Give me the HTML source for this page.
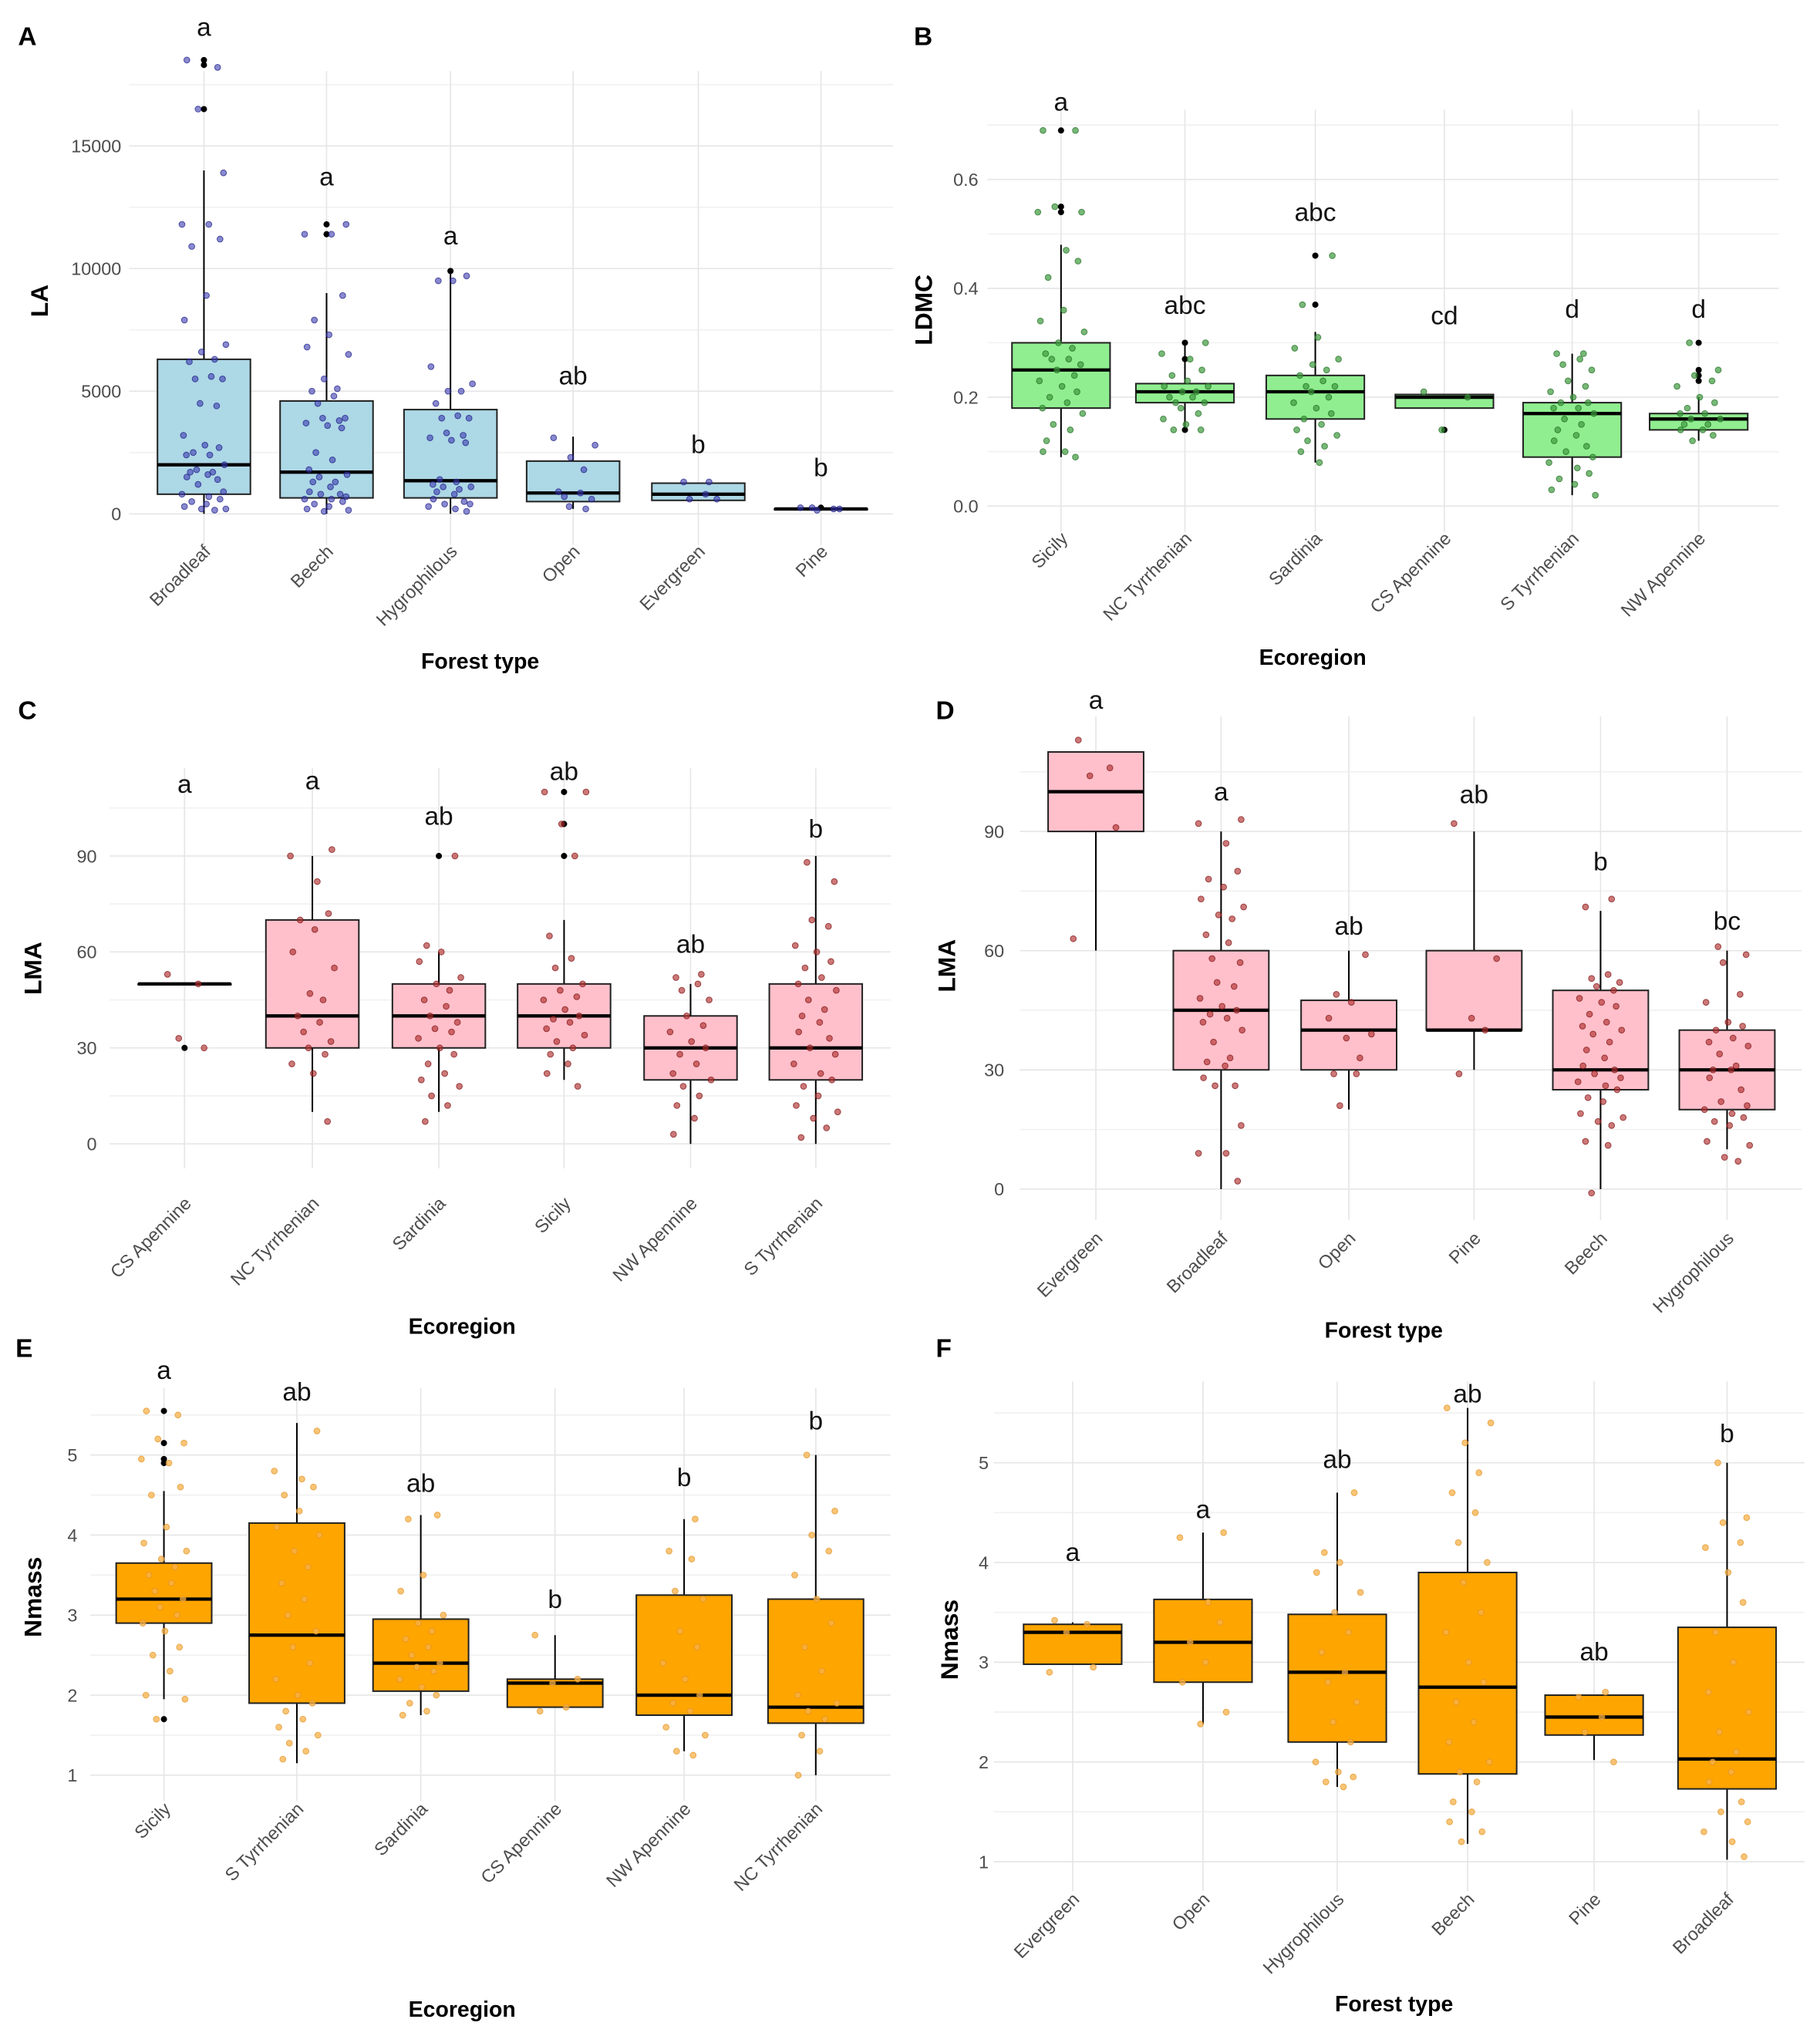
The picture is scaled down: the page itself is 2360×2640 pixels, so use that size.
<!DOCTYPE html>
<html><head><meta charset="utf-8"><style>
html,body{margin:0;padding:0;background:#fff;}
svg{display:block;font-family:"Liberation Sans",sans-serif;}
</style></head><body>
<svg id="fig" width="2360" height="2640" viewBox="0 0 1410 1577" preserveAspectRatio="none" xmlns="http://www.w3.org/2000/svg">
<rect width="1410" height="1577" fill="#fff"/>
</svg>
<script>
// ---------- data arrays ----------
const catsA=["Broadleaf","Beech","Hygrophilous","Open","Evergreen","Pine"];
const boxA=[[0,800,2000,6300,14000],[0,650,1700,4600,9000],[0,650,1350,4250,9800],[200,500,850,2150,3150],[550,550,800,1250,1250],[200,200,200,200,200]];
const outA=[[18500,18300,16500],[11800,11400],[9900],[],[],[250]];
const ptsA=[[18500,18200,16500,13900,11800,11800,11200,10900,8900,7900,6900,6600,6300,6200,5600,5500,5500,4500,4400,3200,2800,2700,2500,2400,2400,2000,1800,1700,1700,1600,1500,1400,1200,900,800,700,600,500,400,300,200,200,150],[11800,11400,11400,8900,7900,7300,6800,6500,5500,5100,5000,4800,4500,3900,3900,3800,3700,3600,3500,2500,2200,1800,1600,1500,1300,1300,1100,900,800,800,700,600,600,500,400,300,200,150,100],[9700,9500,9500,6000,5300,5000,5000,4500,4000,3900,3900,3300,3200,3100,3000,2900,1400,1300,1200,1100,1100,1000,900,800,600,500,400,400,300,200,100],[3100,2800,2300,1800,900,850,700,600,300,200],[1300,1300,800,600,600],[250,200,150,200,250]];
const letA=["a","a","a","ab","b","b"];
const letYA=[19900,13800,11400,5700,2900,1950];
const ticksA=[0,5000,10000,15000];

const catsB=["Sicily","NC Tyrrhenian","Sardinia","CS Apennine","S Tyrrhenian","NW Apennine"];
const boxB=[[0.09,0.18,0.25,0.30,0.48],[0.14,0.19,0.21,0.225,0.30],[0.08,0.16,0.21,0.24,0.32],[0.18,0.18,0.20,0.205,0.205],[0.02,0.09,0.17,0.19,0.28],[0.12,0.14,0.16,0.17,0.20]];
const outB=[[0.69,0.55,0.54],[0.30,0.27,0.14],[0.46,0.37],[0.14],[],[0.30,0.25,0.24,0.23]];
const ptsB=[[0.69,0.69,0.55,0.54,0.54,0.47,0.45,0.42,0.36,0.34,0.32,0.30,0.29,0.28,0.27,0.27,0.26,0.25,0.24,0.23,0.22,0.21,0.20,0.19,0.18,0.17,0.15,0.14,0.12,0.10,0.10,0.09],[0.30,0.28,0.27,0.25,0.24,0.23,0.22,0.22,0.21,0.21,0.20,0.20,0.19,0.19,0.18,0.17,0.16,0.15,0.14,0.14],[0.46,0.37,0.31,0.29,0.27,0.26,0.25,0.24,0.23,0.22,0.22,0.21,0.20,0.19,0.18,0.17,0.16,0.15,0.14,0.13,0.12,0.11,0.10,0.08],[0.21,0.20,0.14],[0.28,0.28,0.27,0.26,0.25,0.23,0.22,0.21,0.20,0.19,0.19,0.18,0.18,0.17,0.16,0.15,0.14,0.13,0.12,0.11,0.10,0.09,0.08,0.07,0.06,0.05,0.04,0.03,0.02],[0.30,0.25,0.24,0.23,0.22,0.20,0.19,0.18,0.17,0.17,0.16,0.16,0.15,0.15,0.14,0.14,0.13,0.12]];
const letB=["a","abc","abc","cd","d","d"];
const letYB=[0.745,0.372,0.543,0.353,0.365,0.365];
const ticksB=[0,0.2,0.4,0.6];

const catsC=["CS Apennine","NC Tyrrhenian","Sardinia","Sicily","NW Apennine","S Tyrrhenian"];
const boxC=[[50,50,50,50,50],[10,30,40,70,90],[10,30,40,50,60],[20,30,40,50,70],[0,20,30,40,50],[0,20,30,50,90]];
const outC=[[30],[],[90],[110,100,90],[],[]];
const ptsC=[[53,50,33,30],[92,90,82,72,70,67,60,55,47,45,40,38,35,32,30,28,25,22,7],[90,62,60,57,52,50,48,45,43,40,38,36,35,33,30,28,25,22,20,18,15,12,7],[110,110,100,90,65,58,55,50,48,46,45,42,40,39,38,36,34,32,30,28,25,22,18],[53,52,50,48,45,40,37,35,32,30,28,25,22,20,18,15,12,8,3],[88,82,70,68,62,60,57,55,52,50,48,45,42,40,38,35,33,30,28,25,22,20,18,15,12,10,8,5,2]];
const letC=["a","a","ab","ab","ab","b"];
const letYC=[113,114,103,117,63,99];
const ticksC=[0,30,60,90];

const catsD=["Evergreen","Broadleaf","Open","Pine","Beech","Hygrophilous"];
const boxD=[[60,90,100,110,110],[0,30,45,60,90],[20,30,40,47.5,60],[30,40,40,60,90],[0,25,30,50,70],[10,20,30,40,60]];
const outD=[[],[],[],[],[],[]];
const ptsD=[[113,106,104,91,63],[93,92,87,80,78,76,73,71,69,68,64,62,58,57,52,51,48,46,45,44,43,42,40,37,33,32,31,28,26,26,16,9,9,2],[59,49,47,43,39,38,33,29,29,21],[92,58,43,40,29],[73,71,54,53,52,51,50,48,47,46,44,42,41,40,39,37,35,33,31,30,29,28,27,26,25,23,22,19,18,17,16,12,11,-1],[61,59,57,49,47,42,41,40,38,37,36,34,31,30,30,28,25,22,21,20,19,18,17,16,12,11,8,7]];
const letD=["a","a","ab","ab","b","bc"];
const letYD=[123.5,100.4,66.6,99.7,82.8,67.9];
const ticksD=[0,30,60,90];

const catsE=["Sicily","S Tyrrhenian","Sardinia","CS Apennine","NW Apennine","NC Tyrrhenian"];
const boxE=[[1.95,2.9,3.2,3.65,4.55],[1.15,1.9,2.75,4.15,5.4],[1.75,2.05,2.4,2.95,4.25],[1.85,1.85,2.15,2.2,2.75],[1.3,1.75,2.0,3.25,4.2],[1.0,1.65,1.85,3.2,5.0]];
const outE=[[5.55,5.15,4.95,4.9,1.7],[],[],[],[],[]];
const ptsE=[[5.55,5.5,5.2,5.15,4.95,4.9,4.6,4.5,4.1,3.9,3.8,3.7,3.6,3.5,3.4,3.3,3.2,3.1,3.0,2.9,2.8,2.6,2.5,2.3,2.0,1.95,1.7],[5.3,4.8,4.7,4.6,4.5,4.3,4.1,4.0,3.8,3.6,3.4,3.2,3.0,2.8,2.6,2.4,2.2,2.0,1.9,1.8,1.7,1.6,1.5,1.4,1.3,1.2],[4.25,4.2,3.5,3.3,3.0,2.9,2.8,2.7,2.6,2.5,2.4,2.35,2.3,2.2,2.1,2.0,1.9,1.8,1.75],[2.75,2.2,2.15,1.85,1.8],[4.2,3.8,3.7,3.3,3.2,2.8,2.6,2.4,2.2,2.0,1.9,1.8,1.6,1.5,1.3,1.25],[5.0,4.3,4.0,3.8,3.5,3.2,2.9,2.6,2.3,2.0,1.9,1.8,1.7,1.5,1.3,1.0]];
const letE=["a","ab","ab","b","b","b"];
const letYE=[6.08,5.81,4.67,3.22,4.74,5.45];
const ticksE=[1,2,3,4,5];

const catsF=["Evergreen","Open","Hygrophilous","Beech","Pine","Broadleaf"];
const boxF=[[2.98,2.98,3.3,3.38,3.4],[2.38,2.8,3.2,3.63,4.3],[1.75,2.2,2.9,3.48,4.7],[1.18,1.88,2.75,3.9,5.55],[2.02,2.27,2.45,2.67,2.67],[1.02,1.73,2.03,3.35,5.0]];
const outF=[[],[],[],[],[],[]];
const ptsF=[[3.42,3.38,3.3,2.95,2.9],[4.3,4.25,3.6,3.4,3.2,3.0,2.8,2.5,2.38],[4.7,4.1,4.0,3.9,3.7,3.5,3.3,3.1,2.9,2.8,2.6,2.4,2.2,2.0,1.9,1.85,1.8,1.75],[5.55,5.4,5.2,4.9,4.7,4.5,4.2,4.0,3.8,3.5,3.3,3.0,2.8,2.6,2.4,2.2,2.0,1.9,1.8,1.6,1.5,1.4,1.3,1.2],[2.7,2.65,2.45,2.3,2.0],[5.0,4.45,4.4,4.2,4.15,3.9,3.6,3.3,3.0,2.7,2.5,2.3,2.1,2.0,1.9,1.8,1.6,1.5,1.4,1.3,1.2,1.05]];
const letF=["a","a","ab","ab","ab","b"];
const letYF=[4.12,4.55,5.05,5.71,3.12,5.31];
const ticksF=[1,2,3,4,5];

// ---------- layout (styles/positions) ----------
const NS="http://www.w3.org/2000/svg";
const svg=document.getElementById('fig');
function mk(tag,attrs,parent){const e=document.createElementNS(NS,tag);for(const k in attrs)e.setAttribute(k,attrs[k]);(parent||svg).appendChild(e);return e;}
const jit=[-0.35,0.28,-0.12,0.4,-0.45,0.1,0.33,-0.25,0.05,-0.4,0.45,-0.05,0.22,-0.3,0.15,-0.18,0.38,-0.08,0.26,-0.42,0.02,0.31,-0.22,0.12,-0.36,0.42,-0.15,0.18,-0.28,0.08];

function panel(P){
  const g=mk('g',{});
  
  
  const y=v=>P.y0px+(v-P.v0)*(P.y1px-P.y0px)/(P.v1-P.v0);
  const x=i=>P.xc[i];
  for(let k=0;k<P.ticks.length;k++){
    const step=P.ticks[1]-P.ticks[0];
    const mv=P.ticks[k]+step/2;
    const yy=y(mv); if(yy>P.top){const l=mk('line',{x1:P.xl,x2:P.xr,y1:yy,y2:yy,stroke:'#f1f1f1','stroke-width':1},g);
    }
    if(k===0){const yb=y(P.ticks[0]-step/2); if(yb<P.bot){mk('line',{x1:P.xl,x2:P.xr,y1:yb,y2:yb,stroke:'#f1f1f1','stroke-width':1},g);}}
  }
  P.ticks.forEach(t=>{
    const yy=y(t);
    const l=mk('line',{x1:P.xl,x2:P.xr,y1:yy,y2:yy,stroke:'#e6e6e6','stroke-width':1},g);
    
    const tx=mk('text',{x:P.tickX,y:yy+5,'text-anchor':'end','font-size':14,fill:'#4d4d4d'},g);
    
    tx.textContent=P.fmt?P.fmt(t):t;
  });
  P.cats.forEach((c,i)=>{
    const l=mk('line',{x1:x(i),x2:x(i),y1:P.top,y2:P.bot,stroke:'#e6e6e6','stroke-width':1},g);
    
  });
  const hw=P.bw/2;
  P.cats.forEach((c,i)=>{
    const b=P.box[i];
    const bg=mk('g',{},g);
    
    
    mk('line',{x1:x(i),x2:x(i),y1:y(b[0]),y2:y(b[4]),stroke:'#000','stroke-width':1.2},bg);
    mk('rect',{x:x(i)-hw,y:y(b[3]),width:P.bw,height:Math.max(0.5,y(b[1])-y(b[3])),fill:P.fill,stroke:'#222','stroke-width':1.2},bg);
    mk('line',{x1:x(i)-hw,x2:x(i)+hw,y1:y(b[2]),y2:y(b[2]),stroke:'#000','stroke-width':2.6},bg);
    P.out[i].forEach(v=>{const o=mk('circle',{cx:x(i),cy:y(v),r:2.4,fill:'#000'},bg);
      });
    P.pts[i].forEach((v,k)=>{
      const jx=x(i)+jit[(k+i*3)%jit.length]*hw*1.05;
      const p=mk('circle',{cx:jx,cy:y(v),r:2.3,fill:P.pt,'fill-opacity':P.ptop,stroke:P.pts2,'stroke-width':0.6,'stroke-opacity':0.7},bg);
      
    });
    const lt=mk('text',{x:x(i),y:y(P.letY[i])+8,'text-anchor':'middle','font-size':20,fill:'#111','font-family':'"Liberation Sans Narrow","Liberation Sans",sans-serif'},g);
    
    lt.textContent=P.lets[i];
    const xl=mk('text',{x:x(i)+6,y:P.labY,'text-anchor':'end','font-size':14,fill:'#4d4d4d',transform:`rotate(-45 ${x(i)+6} ${P.labY})`},g);
    
    xl.textContent=c;
  });
  const yt=mk('text',{x:P.ytX,y:P.ytY,'text-anchor':'middle','font-size':19,'font-weight':'bold',fill:'#000',transform:`rotate(-90 ${P.ytX} ${P.ytY})`},g);
  yt.textContent=P.ytitle;
  const xt=mk('text',{x:P.xtX,y:P.xtY,'text-anchor':'middle','font-size':17,'font-weight':'bold',fill:'#000','font-family':'"Liberation Sans Narrow","Liberation Sans",sans-serif'},g);
  xt.textContent=P.xtitle;
  const pl=mk('text',{x:P.lx,y:P.ly,'font-size':20,'font-weight':'bold',fill:'#000'},g);
  pl.textContent=P.id;
}

const blue={fill:'#add8e6',pt:'#3a3ab0',pts2:'#1a1a80',ptop:0.6};
const green={fill:'#90ee90',pt:'#3d9a3d',pts2:'#1f6a1f',ptop:0.7};
const red={fill:'#ffc0cb',pt:'#b03030',pts2:'#7a1010',ptop:0.65};
const orange={fill:'#ffa500',pt:'#f7b24a',pts2:'#e09020',ptop:0.75};

panel(Object.assign({id:'A',cats:catsA,box:boxA,out:outA,pts:ptsA,lets:letA,letY:letYA,ticks:ticksA,
 v0:0,y0px:398,v1:15000,y1px:113,xc:[158,253,349,444,541,636],bw:72,xl:100,xr:692,top:55,bot:422,
 tickX:94,labY:428,ytitle:'LA',ytX:37,ytY:233,xtitle:'Forest type',xtX:372,xtY:518,lx:14,ly:35},blue));
panel(Object.assign({id:'B',cats:catsB,box:boxB,out:outB,pts:ptsB,lets:letB,letY:letYB,ticks:ticksB,fmt:t=>t.toFixed(1),
 v0:0,y0px:392,v1:0.6,y1px:139,xc:[822,918,1019,1119,1218,1316],bw:76,xl:765,xr:1378,top:85,bot:412,
 tickX:758,labY:418,ytitle:'LDMC',ytX:722,ytY:240,xtitle:'Ecoregion',xtX:1017,xtY:515,lx:708,ly:35},green));
panel(Object.assign({id:'C',cats:catsC,box:boxC,out:outC,pts:ptsC,lets:letC,letY:letYC,ticks:ticksC,
 v0:0,y0px:886,v1:90,y1px:663,xc:[143,242,340,437,535,632],bw:72,xl:85,xr:690,top:595,bot:905,
 tickX:75,labY:933,ytitle:'LMA',ytX:32,ytY:750,xtitle:'Ecoregion',xtX:358,xtY:1033,lx:14,ly:557},red));
panel(Object.assign({id:'D',cats:catsD,box:boxD,out:outD,pts:ptsD,lets:letD,letY:letYD,ticks:ticksD,
 v0:0,y0px:921,v1:90,y1px:644,xc:[849,946,1045,1142,1240,1338],bw:74,xl:790,xr:1396,top:555,bot:945,
 tickX:778,labY:960,ytitle:'LMA',ytX:740,ytY:748,xtitle:'Forest type',xtX:1072,xtY:1036,lx:725,ly:557},red));
panel(Object.assign({id:'E',cats:catsE,box:boxE,out:outE,pts:ptsE,lets:letE,letY:letYE,ticks:ticksE,
 v0:1,y0px:1375,v1:5,y1px:1127,xc:[127,230,326,430,530,632],bw:74,xl:70,xr:690,top:1075,bot:1395,
 tickX:60,labY:1402,ytitle:'Nmass',ytX:32,ytY:1237,xtitle:'Ecoregion',xtX:358,xtY:1562,lx:12,ly:1051},orange));
panel(Object.assign({id:'F',cats:catsF,box:boxF,out:outF,pts:ptsF,lets:letF,letY:letYF,ticks:ticksF,
 v0:1,y0px:1442,v1:5,y1px:1133,xc:[831,932,1036,1137,1235,1338],bw:76,xl:770,xr:1398,top:1070,bot:1465,
 tickX:766,labY:1472,ytitle:'Nmass',ytX:742,ytY:1270,xtitle:'Forest type',xtX:1080,xtY:1558,lx:725,ly:1051},orange));
</script>
</body></html>
